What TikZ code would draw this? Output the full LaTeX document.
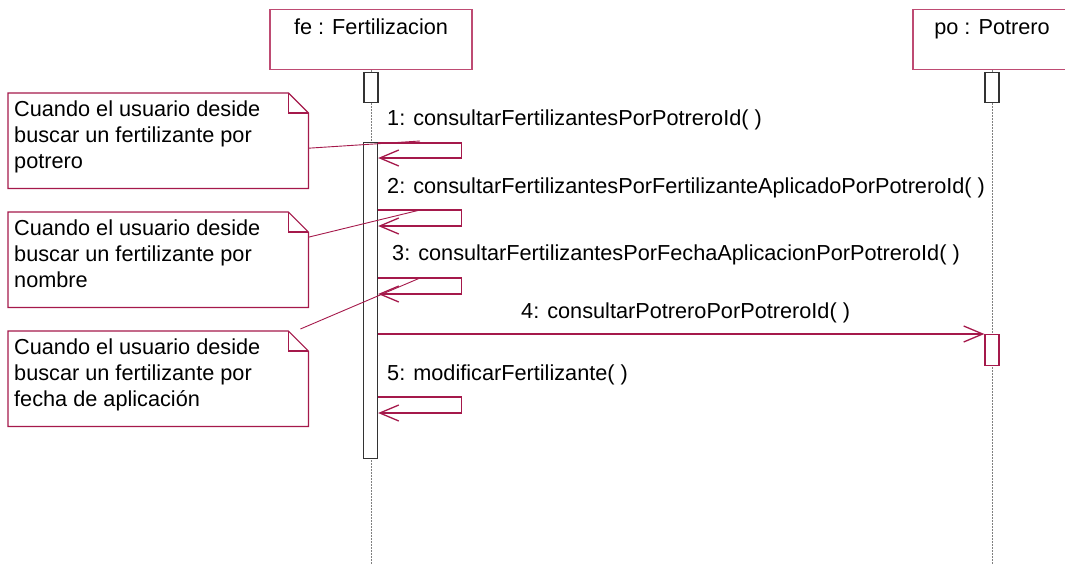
\documentclass[tikz,border=0pt]{standalone}
\usepackage{fontspec}
\setmainfont{Liberation Sans}
\usetikzlibrary{arrows.meta}
\definecolor{umlred}{RGB}{165,25,75}
\definecolor{umlpink}{RGB}{190,75,115}
\newcommand{\diafont}{\fontsize{21.7}{26}\selectfont}

\begin{document}
\begin{tikzpicture}[x=1pt, y=-1pt,
  head/.style={rectangle, draw=umlpink, line width=1.3pt, minimum width=#1, inner xsep=0pt, inner ysep=0pt, text height=25pt, text depth=35pt, font=\diafont, anchor=north},
  bar/.style={rectangle, draw=black!80, fill=white, line width=1.3pt, minimum width=14pt, minimum height=#1, inner sep=0pt, anchor=north},
  lifeline/.style={black!50, line width=1pt, dash pattern=on 2pt off 1pt},
  msg/.style={-{Straight Barb[length=19pt, width=16pt, line width=1.3pt]}, umlred, line width=1.3pt},
  msglabel/.style={font=\diafont, anchor=base west, inner sep=0pt},
  note/.style={rectangle, minimum width=300pt, minimum height=95pt, inner sep=0pt, anchor=north west},
  notetext/.style={font=\diafont, align=left, anchor=north west, inner sep=0pt},
  noteline/.style={umlred, line width=1.2pt}
]
\useasboundingbox (0,0) rectangle (1065,565);
\clip (0,0) rectangle (1065,565);
\coordinate (bot) at (0,565);

% lifeline heads
\node[head=202pt] (fe) at (371,9) {fe : Fertilizacion};
\node[head=158pt] (po) at (992,9) {po : Potrero};

\draw[lifeline] (fe.south) -- (fe.south |- bot);
\draw[lifeline] (po.south) -- (po.south |- bot);

% activations
\node[bar=30pt] (fa0) at (371,72) {};
\node[bar=316pt] (fa1) at (370.5,142) {};
\node[bar=30pt] (pa0) at (992,72) {};
\node[bar=31pt, draw=umlred] (pa1) at (992,334) {};

% messages
\foreach \ya/\yb in {1/16, 68/84, 136/152, 255/271}
  \draw[msg] ([yshift=-\ya pt]fa1.north east) -- ++(83,0) |- ([yshift=-\yb pt]fa1.north east);
\draw[msg] (fa1.east |- pa1.north) -- (pa1.north west);

\node[msglabel] (m1) at (387,125) {1: consultarFertilizantesPorPotreroId( )};
\node[msglabel] (m2) at (387,193) {2: consultarFertilizantesPorFertilizanteAplicadoPorPotreroId( )};
\node[msglabel] (m3) at (392,260) {3: consultarFertilizantesPorFechaAplicacionPorPotreroId( )};
\node[msglabel] (m4) at (521,318) {4: consultarPotreroPorPotreroId( )};
\node[msglabel] (m5) at (387,380) {5: modificarFertilizante( )};

% notes
\node[note] (n1) at (8,93) {};
\node[note] (n2) at (8,212) {};
\node[note] (n3) at (8,331) {};
\foreach \n in {n1, n2, n3} {
  \draw[noteline, fill=white] (\n.north west) -- ([xshift=-20pt]\n.north east) -- ([yshift=-20pt]\n.north east) -- (\n.south east) -- (\n.south west) -- cycle;
  \draw[noteline] ([xshift=-20pt]\n.north east) |- ([yshift=-20pt]\n.north east);
}
\node[notetext] (t1) at (14,101) {Cuando el usuario deside\\buscar un fertilizante por\\potrero};
\node[notetext] (t2) at (14,220) {Cuando el usuario deside\\buscar un fertilizante por\\nombre};
\node[notetext] (t3) at (14,339) {Cuando el usuario deside\\buscar un fertilizante por\\fecha de aplicaci\'on};

\coordinate (c1) at (420,141);
\coordinate (c2) at (420,210);
\coordinate (c3) at (420,278);
\draw[umlred, line width=0.9pt] ([yshift=-7.5pt]n1.east) -- (c1);
\draw[umlred, line width=0.9pt] ([yshift=22.5pt]n2.east) -- (c2);
\draw[umlred, line width=0.9pt] ([xshift=-8pt, yshift=2pt]n3.north east) -- (c3);

\end{tikzpicture}
\end{document}
